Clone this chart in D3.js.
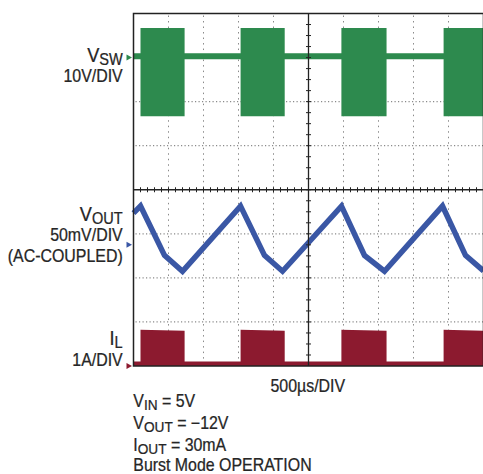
<!DOCTYPE html>
<html>
<head>
<meta charset="utf-8">
<script src="https://cdn.jsdelivr.net/npm/d3@7"></script>
<style>
	body { margin: 0; background: #fff; }
	svg text { font-family: "Liberation Sans", Arial, sans-serif; fill: #262626; stroke: #262626; stroke-width: 0.25; }
</style>
</head>
<body>
<div id="scope"></div>
<script>
// time axis: 500us/DIV, 10 divisions
const timeSpan = [0, 5000];

// V_SW (10V/DIV): switching bursts and idle band
const burstStart = [100, 1530, 2970, 4430];
const burstEnd = [730, 2160, 3615, 5000];
const swIdle = [-0.4, 1.0];
const swBurst = [-13.3, 6.7];

// V_OUT (50mV/DIV, AC-coupled) ripple
const voutT = [0, 100, 443, 700, 1529, 1871, 2129, 2971, 3300, 3586, 4414, 4743, 5000];
const voutMv = [36, 44, -12, -30, 44, -12, -30, 44, -12, -30, 44, -12, -29.5];

// I_L (1A/DIV): inductor current pulses
const ilBase = 0.1;
const ilPeakStart = [0.82, 0.82, 0.82, 0.82];
const ilPeakEnd = [0.8, 0.8, 0.8, 0.8];

// channel reference levels, in divisions from the top
const swRef = 1;
const voutRef = 5.25;
const ilRef = 8;

const size = { w: 483, h: 474 };
const plot = { l: 133.5, t: 13.5, r: 483.5, b: 366 };
const colors = { sw: "#2d8a4e", vout: "#3a57a5", il: "#8c1a2f", grid: "#8a8a8a", frame: "#222" };

const svg = d3
	.select("#scope")
	.append("svg")
	.attr("width", size.w)
	.attr("height", size.h);

const x = d3.scaleLinear().domain(timeSpan).range([plot.l, plot.r]);
const xDiv = d3.scaleLinear().domain([0, 10]).range([plot.l, plot.r]);
const yDiv = d3.scaleLinear().domain([0, 8]).range([plot.t, plot.b]);
const ySw = d3.scaleLinear().domain([10 * swRef, 10 * (swRef - 8)]).range([plot.t, plot.b]);
const yVout = d3.scaleLinear().domain([50 * voutRef, 50 * (voutRef - 8)]).range([plot.t, plot.b]);
const yIl = d3.scaleLinear().domain([ilRef, ilRef - 8]).range([plot.t, plot.b]);

// dotted grid
const gridG = svg.append("g").classed("grid", true);
gridG
	.selectAll("line.v")
	.data(d3.range(1, 10).filter((d) => d !== 5))
	.join("line")
	.attr("x1", (d) => xDiv(d))
	.attr("x2", (d) => xDiv(d))
	.attr("y1", plot.t + 2)
	.attr("y2", plot.b)
	.attr("stroke", colors.grid)
	.attr("stroke-width", 1)
	.attr("stroke-dasharray", "1.5,4.01");
gridG
	.selectAll("line.h")
	.data(d3.range(1, 8).filter((d) => d !== 4))
	.join("line")
	.attr("x1", plot.l + 2)
	.attr("x2", plot.r)
	.attr("y1", (d) => yDiv(d))
	.attr("y2", (d) => yDiv(d))
	.attr("stroke", colors.grid)
	.attr("stroke-width", 1.2)
	.attr("stroke-dasharray", "1.2,2.3");

// traces
function swBand() {
	let pts = [{ t: timeSpan[0], lo: swIdle[0], hi: swIdle[1] }];
	burstStart.forEach((s, i) => {
		pts.push({ t: s, lo: swIdle[0], hi: swIdle[1] });
		pts.push({ t: s, lo: swBurst[0], hi: swBurst[1] });
		pts.push({ t: burstEnd[i], lo: swBurst[0], hi: swBurst[1] });
		pts.push({ t: burstEnd[i], lo: swIdle[0], hi: swIdle[1] });
	});
	pts.push({ t: timeSpan[1], lo: swIdle[0], hi: swIdle[1] });
	return pts;
}

function ilTrace() {
	let pts = [{ t: timeSpan[0], v: ilBase }];
	burstStart.forEach((s, i) => {
		pts.push({ t: s, v: ilBase });
		pts.push({ t: s, v: ilPeakStart[i] });
		pts.push({ t: burstEnd[i], v: ilPeakEnd[i] });
		pts.push({ t: burstEnd[i], v: ilBase });
	});
	pts.push({ t: timeSpan[1], v: ilBase });
	return pts;
}

const tracesG = svg.append("g").classed("traces", true);
tracesG
	.append("path")
	.datum(swBand())
	.attr("fill", colors.sw)
	.attr(
		"d",
		d3
			.area()
			.x((d) => x(d.t))
			.y0((d) => ySw(d.lo))
			.y1((d) => ySw(d.hi))
	);

tracesG
	.append("path")
	.datum(voutT.map((t, i) => ({ t: t, v: voutMv[i] })))
	.attr("fill", "none")
	.attr("stroke", colors.vout)
	.attr("stroke-width", 5.5)
	.attr("stroke-linejoin", "miter")
	.attr(
		"d",
		d3
			.line()
			.x((d) => x(d.t))
			.y((d) => yVout(d.v))
	);

tracesG
	.append("path")
	.datum(ilTrace())
	.attr("fill", colors.il)
	.attr(
		"d",
		d3
			.area()
			.x((d) => x(d.t))
			.y0(yIl(0))
			.y1((d) => yIl(d.v))
	);

// center axes with minor ticks
const axesG = svg.append("g").classed("center-axes", true);
axesG
	.append("line")
	.attr("x1", plot.l)
	.attr("x2", plot.r)
	.attr("y1", yDiv(4))
	.attr("y2", yDiv(4))
	.attr("stroke", colors.frame)
	.attr("stroke-width", 1.3);
axesG
	.append("line")
	.attr("x1", xDiv(5))
	.attr("x2", xDiv(5))
	.attr("y1", plot.t)
	.attr("y2", plot.b)
	.attr("stroke", colors.frame)
	.attr("stroke-width", 1.3);
axesG
	.selectAll("line.xt")
	.data(d3.range(1, 50))
	.join("line")
	.attr("x1", (d) => xDiv(d / 5))
	.attr("x2", (d) => xDiv(d / 5))
	.attr("y1", yDiv(4) - 2.5)
	.attr("y2", yDiv(4) + 2.5)
	.attr("stroke", colors.frame)
	.attr("stroke-width", 1);
axesG
	.selectAll("line.yt")
	.data(d3.range(1, 32))
	.join("line")
	.attr("x1", xDiv(5) - 2.5)
	.attr("x2", xDiv(5) + 2.5)
	.attr("y1", (d) => yDiv(d / 4))
	.attr("y2", (d) => yDiv(d / 4))
	.attr("stroke", colors.frame)
	.attr("stroke-width", 1);

// frame
svg
	.append("rect")
	.attr("x", plot.l)
	.attr("y", plot.t)
	.attr("width", plot.r - plot.l)
	.attr("height", plot.b - plot.t)
	.attr("fill", "none")
	.attr("stroke", colors.frame)
	.attr("stroke-width", 1.5);

// channel reference markers
const markers = [
	{ y: ySw(0), c: colors.sw },
	{ y: yVout(0), c: colors.vout },
	{ y: yIl(0), c: colors.il },
];
svg
	.selectAll("path.marker")
	.data(markers)
	.join("path")
	.attr("fill", (d) => d.c)
	.attr("d", (d) => `M${plot.l - 7},${d.y - 3}L${plot.l - 1.5},${d.y}L${plot.l - 7},${d.y + 3}Z`);

// labels
function label(px, py, parts, anchor) {
	const t = svg
		.append("g")
		.attr("transform", `translate(${px},${py}) scale(0.91,1)`)
		.append("text")
		.attr("text-anchor", anchor)
		.attr("font-size", 17.5);
	let shift = 0;
	parts.forEach((p) => {
		const dy = (p.dy || 0) - shift;
		shift = p.dy || 0;
		t.append("tspan")
			.attr("dy", dy)
			.attr("font-size", p.size || 17.5)
			.text(p.s);
	});
}

label(122.7, 61.7, [{ s: "V", size: 20 }, { s: "SW", size: 16, dy: 3.2 }], "end");
label(122.7, 81.7, [{ s: "10V/DIV" }], "end");
label(122.7, 220.7, [{ s: "V", size: 20 }, { s: "OUT", size: 16, dy: 3.2 }], "end");
label(122.7, 240.7, [{ s: "50mV/DIV" }], "end");
label(122.7, 261.7, [{ s: "(AC-COUPLED)" }], "end");
label(122.7, 345, [{ s: "I", size: 20 }, { s: "L", size: 16, dy: 3.2 }], "end");
label(122.7, 366, [{ s: "1A/DIV" }], "end");

label(270.5, 391.7, [{ s: "500µs/DIV" }], "start");
label(133.3, 407, [{ s: "V" }, { s: "IN", size: 15, dy: 3.2 }, { s: " = 5V" }], "start");
label(133.3, 429, [{ s: "V" }, { s: "OUT", size: 15, dy: 3.2 }, { s: " = \u221212V" }], "start");
label(133.3, 451, [{ s: "I" }, { s: "OUT", size: 15, dy: 3.2 }, { s: " = 30mA" }], "start");
label(133.3, 470.5, [{ s: "Burst Mode OPERATION" }], "start");
</script>
</body>
</html>
